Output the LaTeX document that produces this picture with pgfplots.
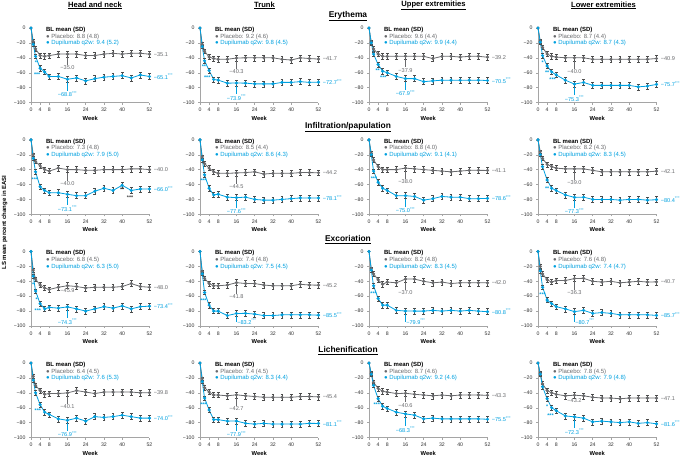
\documentclass[border=0pt]{standalone}
\usepackage{pgfplots}
\pgfplotsset{compat=1.18}
\usepackage{pgfplotstable}
\usepackage{fontspec}
\setmainfont{Liberation Sans}

\definecolor{plc}{RGB}{105,106,109}
\definecolor{dup}{RGB}{0,160,223}
\definecolor{axgray}{RGB}{165,165,165}

\newcommand\tickfont{\fontsize{5.2}{5.6}\selectfont}
\newcommand\lblfont{\fontsize{5.6}{6}\selectfont}

% weeks: 0 1 2 4 6 8 12 16 20 ... 52 ; pla = placebo, dup = dupilumab, e = error bar half-width
% Erythema
\pgfplotstableread{
wk pla dup e
0 0 0 0
1 -18 -22 2.5
2 -28 -38 3
4 -37 -54 3.5
6 -38 -59 3.5
8 -37 -65 3.5
12 -35 -65 4
16 -35.0 -68.8 4
20 -35 -67 4
24 -37 -71 4
28 -37 -68 4
32 -35 -66 4
36 -34 -65 4
40 -35 -64 4
44 -34 -67 4
48 -34 -63 4
52 -35.1 -65.1 4
}\tA
\pgfplotstableread{
wk pla dup e
0 0 0 0
1 -22 -25 2.5
2 -31 -44 3
4 -39 -57 3.5
6 -41 -69 3.5
8 -42 -70 3.5
12 -42 -74 4
16 -40.3 -73.9 4
20 -40 -74 4
24 -40 -75 4
28 -40 -75 4
32 -40 -75 4
36 -42 -73 4
40 -43 -73 4
44 -40 -72 4
48 -41 -73 4
52 -41.7 -72.7 4
}\tB
\pgfplotstableread{
wk pla dup e
0 0 0 0
1 -19 -20 2.5
2 -28 -35 3
4 -35 -49 3.5
6 -38 -58 3.5
8 -38 -60 3.5
12 -38 -65 4
16 -37.9 -67.9 4
20 -38 -68 4
24 -38 -72 4
28 -41 -71 4
32 -38 -70 4
36 -38 -70 4
40 -39 -70 4
44 -38 -70 4
48 -38 -70 4
52 -39.2 -70.5 4
}\tC
\pgfplotstableread{
wk pla dup e
0 0 0 0
1 -18 -19 2.5
2 -26 -37 3
4 -35 -51 3.5
6 -38 -59 3.5
8 -39 -63 3.5
12 -40 -70 4
16 -40.0 -75.3 4
20 -40 -73 4
24 -42 -77 4
28 -42 -77 4
32 -42 -77 4
36 -42 -77 4
40 -42 -77 4
44 -42 -79 4
48 -42 -78 4
52 -40.9 -75.7 4
}\tD
% Infiltration/papulation
\pgfplotstableread{
wk pla dup e
0 0 0 0
1 -20 -25 2.5
2 -29 -43 3
4 -35 -63 3.5
6 -40 -68 3.5
8 -42 -71 3.5
12 -38 -71 4
16 -40.0 -73.1 4
20 -40 -75 4
24 -41 -75 4
28 -41 -69 4
32 -40 -65 4
36 -40 -68 4
40 -40 -61 4
44 -39 -68 4
48 -39 -66 4
52 -40.0 -66.0 4
}\tE
\pgfplotstableread{
wk pla dup e
0 0 0 0
1 -23 -27 2.5
2 -32 -47 3
4 -38 -65 3.5
6 -43 -74 3.5
8 -45 -73 3.5
12 -45 -77 4
16 -44.5 -77.6 4
20 -44 -77 4
24 -43 -80 4
28 -46 -81 4
32 -45 -81 4
36 -45 -80 4
40 -45 -79 4
44 -44 -78 4
48 -44 -78 4
52 -44.2 -78.1 4
}\tF
\pgfplotstableread{
wk pla dup e
0 0 0 0
1 -18 -20 2.5
2 -27 -42 3
4 -36 -57 3.5
6 -40 -65 3.5
8 -40 -68 3.5
12 -40 -75 4
16 -38.0 -75.0 4
20 -39 -76 4
24 -40 -81 4
28 -41 -79 4
32 -42 -76 4
36 -43 -77 4
40 -42 -77 4
44 -41 -79 4
48 -41 -79 4
52 -41.1 -78.6 4
}\tG
\pgfplotstableread{
wk pla dup e
0 0 0 0
1 -16 -20 2.5
2 -25 -36 3
4 -33 -54 3.5
6 -36 -65 3.5
8 -38 -68 3.5
12 -39 -74 4
16 -39.0 -77.3 4
20 -39 -77 4
24 -41 -80 4
28 -43 -80 4
32 -43 -80 4
36 -43 -81 4
40 -43 -80 4
44 -43 -80 4
48 -43 -81 4
52 -42.1 -80.4 4
}\tH
% Excoriation
\pgfplotstableread{
wk pla dup e
0 0 0 0
1 -25 -33 2.5
2 -37 -53 3
4 -45 -70 3.5
6 -49 -77 3.5
8 -51 -75 3.5
12 -48 -76 4
16 -45.9 -74.3 4
20 -47 -77 4
24 -49 -80 4
28 -48 -77 4
32 -48 -74 4
36 -48 -76 4
40 -47 -73 4
44 -43 -77 4
48 -47 -74 4
52 -48.0 -73.4 4
}\tI
\pgfplotstableread{
wk pla dup e
0 0 0 0
1 -27 -30 2.5
2 -36 -55 3
4 -43 -72 3.5
6 -46 -80 3.5
8 -46 -80 3.5
12 -45 -86 4
16 -41.8 -83.2 4
20 -43 -83 4
24 -43 -84 4
28 -45 -86 4
32 -46 -86 4
36 -46 -85 4
40 -46 -85 4
44 -44 -85 4
48 -45 -85 4
52 -45.2 -85.5 4
}\tJ
\pgfplotstableread{
wk pla dup e
0 0 0 0
1 -23 -25 2.5
2 -30 -46 3
4 -38 -63 3.5
6 -44 -72 3.5
8 -41 -72 3.5
12 -42 -79 4
16 -37.0 -79.9 4
20 -37 -80 4
24 -40 -80 4
28 -42 -79 4
32 -41 -80 4
36 -43 -79 4
40 -42 -80 4
44 -42 -79 4
48 -42 -80 4
52 -42.0 -80.8 4
}\tK
\pgfplotstableread{
wk pla dup e
0 0 0 0
1 -20 -26 2.5
2 -30 -48 3
4 -38 -65 3.5
6 -41 -70 3.5
8 -39 -74 3.5
12 -39 -77 4
16 -36.3 -80.7 4
20 -36 -79 4
24 -40 -83 4
28 -41 -82 4
32 -40 -83 4
36 -42 -85 4
40 -41 -85 4
44 -40 -85 4
48 -41 -85 4
52 -40.7 -85.7 4
}\tL
% Lichenification
\pgfplotstableread{
wk pla dup e
0 0 0 0
1 -18 -23 2.5
2 -30 -40 3
4 -37 -56 3.5
6 -42 -66 3.5
8 -41 -69 3.5
12 -41 -75 4
16 -40.1 -76.9 4
20 -37 -74 4
24 -39 -78 4
28 -41 -72 4
32 -39 -73 4
36 -39 -72 4
40 -39 -70 4
44 -39 -72 4
48 -40 -74 4
52 -39.8 -74.0 4
}\tM
\pgfplotstableread{
wk pla dup e
0 0 0 0
1 -21 -25 2.5
2 -33 -47 3
4 -39 -63 3.5
6 -43 -76 3.5
8 -43 -76 3.5
12 -44 -78 4
16 -42.7 -77.9 4
20 -44 -81 4
24 -45 -82 4
28 -46 -81 4
32 -46 -82 4
36 -46 -82 4
40 -46 -82 4
44 -45 -82 4
48 -45 -81 4
52 -45.4 -81.1 4
}\tN
\pgfplotstableread{
wk pla dup e
0 0 0 0
1 -14 -15 2.5
2 -26 -30 3
4 -34 -48 3.5
6 -38 -58 3.5
8 -39 -61 3.5
12 -41 -66 4
16 -40.6 -68.3 4
20 -42 -70 4
24 -43 -75 4
28 -44 -74 4
32 -43 -75 4
36 -44 -75 4
40 -43 -75 4
44 -43 -75 4
48 -43 -75 4
52 -43.3 -75.5 4
}\tO
\pgfplotstableread{
wk pla dup e
0 0 0 0
1 -14 -15 2.5
2 -28 -32 3
4 -37 -48 3.5
6 -40 -60 3.5
8 -42 -64 3.5
12 -44 -71 4
16 -43.2 -72.3 4
20 -44 -74 4
24 -46 -79 4
28 -47 -78 4
32 -47 -79 4
36 -48 -80 4
40 -47 -79 4
44 -47 -81 4
48 -47 -80 4
52 -47.1 -81.6 4
}\tP

\pgfplotsset{
  panel/.style={
    scale only axis, width=118.5pt, height=74.5pt, anchor=south west,
    xmin=0, xmax=52, ymin=-100, ymax=0, enlargelimits=false, clip=false,
    axis lines=left, axis line style={-, draw=axgray, line width=0.5pt},
    xtick={0,4,8,16,24,32,40,52}, xticklabels={0,4,8,16,24,32,40,52},
    ytick={-100,-80,-60,-40,-20,0}, yticklabels={−100,−80,−60,−40,−20,0},
    tick style={draw=axgray, line width=0.4pt}, major tick length=2pt, tick align=outside,
    ticklabel style={font=\tickfont, text=black!80},
    /pgf/number format/assume math mode=true,
    xlabel={Week},
    xlabel style={font=\bfseries\fontsize{5.8}{6}\selectfont, at={(axis description cs:0.5,0)},
      anchor=center, yshift=-15.5pt},
  },
  ebars/.style={error bars/.cd, y dir=both, y explicit,
    error bar style={black!70, line width=0.45pt},
    error mark options={rotate=90, black!70, mark size=1.4pt, line width=0.45pt}},
  plcline/.style={plc, line width=0.8pt, mark=*, mark size=1.15pt, mark options={solid, fill=plc}, ebars},
  dupline/.style={dup, line width=0.8pt, mark=*, mark size=1.15pt, mark options={solid, fill=dup}, ebars},
}

% week-16 labels: from y, to y, text
\newcommand\wlp[3]{\draw[plc, line width=0.4pt] (axis cs:16,#1) -- (axis cs:16,#2);
  \node[plc, anchor=north, font=\lblfont, inner sep=0.6pt] at (axis cs:16,#2) {#3};}
\newcommand\wld[3]{\draw[dup, line width=0.4pt] (axis cs:16,#1) -- (axis cs:16,#2);
  \node[dup, anchor=north, font=\lblfont, inner sep=0.6pt] at (axis cs:16,#2) {#3\textsuperscript{***}};}
\newcommand\wldw[3]{\draw[dup, line width=0.4pt] (axis cs:16,#1) -- (axis cs:16,#2);
  \node[dup, anchor=west, font=\lblfont, inner sep=0.6pt] at (axis cs:16,#2) {#3\textsuperscript{***}};}
% week-52 labels
\newcommand\finlab[4]{%
  \node[plc, anchor=west, font=\lblfont, inner sep=0pt] at (axis cs:53.8,#1) {#2};
  \node[dup, anchor=west, font=\lblfont, inner sep=0pt] at (axis cs:53.8,#3) {#4\textsuperscript{***}};}
% significance stars
\newcommand\st[3]{\node[dup, font=\bfseries\fontsize{5.4}{5.4}\selectfont, inner sep=0pt] at (axis cs:#1,#2) {#3};}
\newcommand\stk[3]{\node[black!75, font=\bfseries\fontsize{5.4}{5.4}\selectfont, inner sep=0pt] at (axis cs:#1,#2) {#3};}

% x, bottom y, table, placebo BL, dupilumab BL, annotations
\newcommand\panel[6]{%
\begin{axis}[panel, at={(#1pt,-#2pt)}]
\addplot[plcline] table[x=wk, y=pla, y error=e] {#3};
\addplot[dupline] table[x=wk, y=dup, y error=e] {#3};
\node[anchor=north west, align=left, inner sep=0pt, font=\fontsize{6}{6.7}\selectfont]
  at (axis description cs:0.125,1.015)
  {\textbf{BL mean (SD)}\\\textcolor{plc}{● Placebo: #4}\\\textcolor{dup}{● Dupilumab q2w: #5}};
#6
\end{axis}}

\begin{document}
\begin{tikzpicture}
\path[use as bounding box] (0,0) rectangle (685pt,-458pt);

\foreach \x/\t in {95/Head and neck, 264.5/Trunk, 433.5/Upper extremities, 603.5/Lower extremities}
  \node[font=\bfseries\fontsize{7.6}{8}\selectfont] at (\x pt,-5.5pt) {\underline{\t}};
\foreach \y/\t in {16/Erythema, 127.3/Infiltration\slash papulation, 239.3/Excoriation, 350.7/Lichenification}
  \node[font=\bfseries\fontsize{8.4}{9}\selectfont] at (348pt,-\y pt) {\underline{\t}};
\node[rotate=90, font=\bfseries\fontsize{6}{6.5}\selectfont] at (4.5pt,-222.5pt) {LS mean percent change in EASI};

% Erythema
\panel{31}{102.5}{\tA}{8.8 (4.8)}{9.4 (5.2)}{\wlp{-39}{-50}{−35.0}\wld{-73}{-84}{−68.8}\finlab{-35.1}{−35.1}{-65.1}{−65.1}\st{2.2}{-46}{*}\st{2.7}{-62}{***}}
\panel{200}{102.5}{\tB}{9.2 (4.6)}{9.8 (4.5)}{\wlp{-44}{-55.3}{−40.3}\wld{-78}{-89}{−73.9}\finlab{-41.7}{−41.7}{-72.7}{−72.7}\st{1.7}{-52}{**}\st{3.2}{-66}{***}}
\panel{369}{102.5}{\tC}{9.6 (4.4)}{9.9 (4.4)}{\wlp{-42}{-53}{−37.9}\wld{-72}{-83}{−67.9}\finlab{-39.2}{−39.2}{-70.5}{−70.5}\st{3.8}{-57}{**}\st{6.3}{-67}{***}}
\panel{538}{102.5}{\tD}{8.7 (4.4)}{8.7 (4.3)}{\wlp{-44}{-55}{−40.0}\wld{-79}{-90.5}{−75.3}\finlab{-40.9}{−40.9}{-75.7}{−75.7}\st{2}{-46}{*}\st{4}{-60}{**}\st{6.4}{-69}{***}}
% Infiltration/papulation
\panel{31}{214.3}{\tE}{7.3 (4.8)}{7.9 (5.0)}{\wlp{-44}{-55}{−40.0}\wld{-77}{-88}{−73.1}\finlab{-40.0}{−40.0}{-66.0}{−66.0}\st{1.7}{-54}{***}\stk{40}{-67}{**}\stk{43.5}{-78}{***}}
\panel{200}{214.3}{\tF}{8.5 (4.4)}{8.6 (4.3)}{\wlp{-48}{-59.5}{−44.5}\wld{-81}{-91}{−77.6}\finlab{-44.2}{−44.2}{-78.1}{−78.1}\st{1.5}{-55}{***}}
\panel{369}{214.3}{\tG}{8.8 (4.0)}{9.1 (4.1)}{\wlp{-42}{-53}{−38.0}\wld{-79}{-90}{−75.0}\finlab{-41.1}{−41.1}{-78.6}{−78.6}\st{2.2}{-52}{***}}
\panel{538}{214.3}{\tH}{8.2 (4.3)}{8.3 (4.5)}{\wlp{-43}{-54}{−39.0}\wld{-81}{-91}{−77.3}\finlab{-42.1}{−42.1}{-80.4}{−80.4}\st{4}{-66}{**}}
% Excoriation
\panel{31}{326}{\tI}{6.8 (4.5)}{6.3 (5.0)}{\wlp{-50}{-49}{−45.9}\wld{-78}{-89.3}{−74.3}\finlab{-48.0}{−48.0}{-73.4}{−73.4}\st{1}{-44}{*}\st{2.5}{-64}{*}\st{3}{-80}{***}}
\panel{200}{326}{\tJ}{7.4 (4.8)}{7.5 (4.5)}{\wlp{-46}{-56.8}{−41.8}\wldw{-87}{-94}{−83.2}\finlab{-45.2}{−45.2}{-85.5}{−85.5}\st{1.5}{-66}{***}}
\panel{369}{326}{\tK}{8.2 (4.8)}{8.3 (4.5)}{\wlp{-41}{-52}{−37.0}\wldw{-84}{-94}{−79.9}\finlab{-42.0}{−42.0}{-80.8}{−80.8}\st{2}{-56}{***}}
\panel{538}{326}{\tL}{7.6 (4.8)}{7.4 (4.7)}{\wlp{-40}{-51.3}{−36.3}\wldw{-85}{-94}{−80.7}\finlab{-40.7}{−40.7}{-85.7}{−85.7}\st{2}{-58}{***}\st{4}{-68}{*}}
% Lichenification
\panel{31}{437.5}{\tM}{6.4 (4.5)}{7.6 (5.3)}{\wlp{-44}{-55}{−40.1}\wld{-81}{-91}{−76.9}\finlab{-39.8}{−39.8}{-74.0}{−74.0}\st{3}{-64}{***}}
\panel{200}{437.5}{\tN}{7.4 (4.5)}{8.3 (4.4)}{\wlp{-47}{-57.7}{−42.7}\wld{-82}{-91}{−77.9}\finlab{-45.4}{−45.4}{-81.1}{−81.1}\st{1.5}{-56}{***}}
\panel{369}{437.5}{\tO}{8.7 (4.6)}{9.2 (4.6)}{\wlp{-44}{-53}{−40.6}\wld{-72}{-85}{−68.3}\finlab{-43.3}{−43.3}{-75.5}{−75.5}\st{3.4}{-56}{***}}
\panel{538}{437.5}{\tP}{7.8 (4.5)}{7.9 (4.8)}{\wlp{-47}{-47}{−43.2}\wld{-76}{-87.3}{−72.3}\finlab{-47.1}{−47.1}{-81.6}{−81.6}\st{4}{-58}{*}\st{5.5}{-70}{***}}
\end{tikzpicture}
\end{document}
